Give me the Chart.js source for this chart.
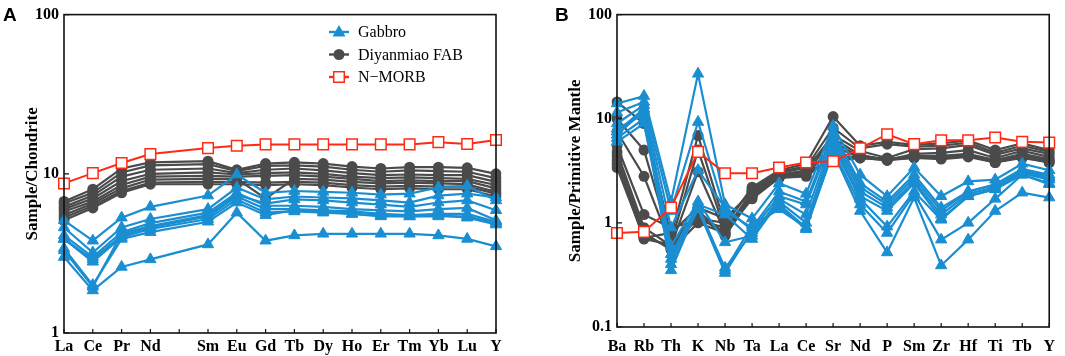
<!DOCTYPE html>
<html>
<head>
<meta charset="utf-8">
<script src="https://cdn.jsdelivr.net/npm/chart.js@4"></script>
<style>
  body { margin: 0; background: #fff; }
  canvas { position: absolute; top: 0; }
</style>
</head>
<body>
<canvas id="chartA" width="530" height="356" style="left:0px"></canvas>
<canvas id="chartB" width="535" height="356" style="left:530px"></canvas>
<script>
// ---- panel A: chondrite-normalised REE (Pm slot left empty) ----
var reeLabels = ['La', 'Ce', 'Pr', 'Nd', '', 'Sm', 'Eu', 'Gd', 'Tb', 'Dy', 'Ho', 'Er', 'Tm', 'Yb', 'Lu', 'Y'];
var reeTicks = [1, 10, 100];

var reeMorb = [8.7, 10.1, 11.7, 13.3, null, 14.5, 15.0, 15.3, 15.3, 15.3, 15.3, 15.3, 15.3, 15.8, 15.4, 16.3];

var reeFab = [
  [6.7, 8.0, 10.8, 11.8, null, 12.0, 10.6, 11.6, 11.8, 11.6, 11.1, 10.8, 11.0, 11.0, 10.9, 10.0],
  [6.5, 7.6, 10.2, 11.3, null, 11.5, 10.4, 11.2, 11.3, 11.1, 10.6, 10.3, 10.5, 10.4, 10.3, 9.4],
  [6.2, 7.3, 9.6, 10.6, null, 10.8, 10.1, 10.6, 10.8, 10.5, 10.1, 9.8, 9.9, 9.8, 9.8, 8.9],
  [6.0, 7.0, 9.0, 10.0, null, 10.2, 9.9, 10.1, 10.2, 10.0, 9.6, 9.4, 9.5, 9.4, 9.3, 8.5],
  [5.8, 6.7, 8.5, 9.6, null, 9.7, 9.6, 9.7, 9.8, 9.6, 9.3, 9.0, 9.1, 9.0, 9.0, 8.1],
  [5.5, 6.5, 8.1, 9.2, null, 9.3, 9.3, 7.0, 9.3, 9.2, 8.9, 8.7, 8.8, 8.7, 8.6, 7.7],
  [5.3, 6.3, 7.8, 8.8, null, 8.9, 8.9, 8.8, 8.9, 8.8, 8.5, 8.3, 8.4, 8.3, 8.3, 7.5],
  [5.1, 6.1, 7.6, 8.6, null, 8.6, 8.6, 8.5, 8.6, 8.5, 8.2, 8.0, 8.1, 8.0, 8.0, 7.2]
];

var reeGabbro = [
  [5.1, 3.8, 5.3, 6.2, null, 7.3, 9.9, 7.6, 7.8, 7.7, 7.6, 7.4, 7.5, 8.2, 8.4, 6.8],
  [4.6, 3.2, 4.6, 5.2, null, 6.0, 8.2, 6.9, 7.2, 7.1, 7.0, 6.8, 6.6, 7.3, 7.5, 7.1],
  [4.1, 3.0, 4.3, 4.9, null, 5.7, 7.6, 6.3, 6.3, 6.2, 6.0, 5.9, 5.8, 6.0, 6.1, 5.1],
  [3.9, 2.9, 4.1, 4.6, null, 5.4, 7.2, 6.0, 6.0, 5.9, 5.8, 5.6, 5.5, 5.6, 5.6, 5.0],
  [3.9, 2.8, 4.0, 4.5, null, 5.2, 6.9, 5.7, 5.8, 5.7, 5.6, 5.4, 5.4, 5.4, 5.4, 4.9],
  [3.4, 2.0, 3.9, 4.3, null, 5.0, 6.6, 5.5, 5.9, 5.8, 5.6, 5.5, 5.4, 5.5, 5.3, 4.8],
  [3.3, 1.95, 4.2, 4.7, null, 5.5, 7.4, 6.5, 6.9, 6.8, 6.6, 6.4, 6.2, 6.6, 6.8, 5.9],
  [3.0, 1.85, 2.6, 2.9, null, 3.6, 5.7, 3.8, 4.1, 4.2, 4.2, 4.2, 4.2, 4.1, 3.9, 3.5]
];

// ---- panel B: primitive-mantle-normalised spider diagram ----
var pmLabels = ['Ba', 'Rb', 'Th', 'K', 'Nb', 'Ta', 'La', 'Ce', 'Sr', 'Nd', 'P', 'Sm', 'Zr', 'Hf', 'Ti', 'Tb', 'Y'];
var pmTicks = [0.1, 1, 10, 100];

var pmMorb = [0.8, 0.82, 1.4, 4.8, 3.0, 3.0, 3.4, 3.8, 3.9, 5.2, 7.1, 5.7, 6.2, 6.2, 6.6, 6.0, 5.9];

var pmFab = [
  [14.5, 9.0, 0.75, 6.9, 0.95, 2.2, 3.2, 3.7, 10.5, 5.5, 6.0, 5.6, 5.8, 6.2, 5.0, 5.8, 5.0],
  [10.0, 5.0, 0.65, 5.0, 0.85, 2.0, 3.0, 3.4, 8.2, 5.2, 5.7, 5.4, 5.5, 5.9, 4.7, 5.5, 4.8],
  [7.5, 2.8, 0.6, 3.1, 0.8, 1.9, 2.9, 3.2, 7.0, 4.9, 4.2, 5.1, 5.2, 5.6, 4.5, 5.2, 4.6],
  [5.5, 1.2, 0.9, 1.05, 0.9, 1.8, 2.8, 3.0, 6.5, 4.5, 4.0, 4.6, 4.7, 5.0, 4.2, 4.9, 4.3],
  [4.8, 0.9, 0.6, 1.1, 1.0, 2.1, 3.1, 3.5, 6.0, 4.3, 4.1, 4.4, 4.4, 4.6, 4.0, 4.6, 4.1],
  [4.4, 0.8, 0.55, 1.0, 0.8, 1.7, 2.7, 2.9, 5.5, 4.2, 4.0, 4.3, 4.2, 4.5, 3.9, 4.5, 4.0],
  [4.0, 0.75, 0.58, 1.2, 0.75, 1.8, 2.7, 2.8, 4.3, 4.3, 4.1, 4.2, 4.3, 4.4, 3.9, 4.4, 3.9],
  [3.7, 0.7, 0.62, 1.3, 0.78, 1.9, 2.8, 3.0, 3.9, 4.2, 4.0, 4.2, 4.1, 4.3, 3.8, 4.3, 3.8],
  [3.4, 0.72, 0.8, 1.4, 1.1, 2.0, 2.8, 3.1, 4.0, 4.4, 4.1, 4.3, 4.2, 4.4, 3.8, 4.2, 3.8]
];

var pmGabbro = [
  [14.0, 16.5, 1.6, 27.0, 1.5, 1.1, 2.4, 1.9, 8.5, 2.9, 1.8, 3.4, 1.8, 2.5, 2.6, 3.7, 3.2],
  [11.5, 14.5, 1.3, 9.3, 1.3, 0.9, 2.0, 1.6, 7.5, 2.4, 1.6, 2.9, 1.4, 2.0, 2.35, 3.3, 2.9],
  [9.0, 13.5, 0.9, 3.2, 1.4, 0.85, 1.8, 1.5, 7.0, 2.2, 1.5, 2.7, 1.3, 2.0, 2.3, 3.2, 2.8],
  [7.5, 12.5, 0.6, 1.6, 0.65, 0.75, 1.7, 1.2, 6.5, 2.0, 1.4, 2.5, 1.2, 1.9, 2.2, 3.1, 2.7],
  [6.5, 10.0, 0.5, 1.5, 1.2, 0.7, 1.6, 1.0, 6.0, 1.8, 1.3, 2.4, 1.1, 1.8, 2.1, 3.0, 2.6],
  [6.0, 9.0, 0.45, 1.4, 0.37, 0.8, 1.5, 0.9, 5.5, 1.7, 0.92, 2.0, 1.07, 1.8, 2.1, 2.9, 2.4],
  [7.0, 12.0, 0.4, 1.35, 0.33, 0.85, 1.45, 0.87, 5.0, 1.5, 0.8, 1.9, 0.69, 1.0, 1.7, 2.9, 2.35],
  [8.0, 11.0, 0.35, 1.45, 0.35, 0.95, 1.35, 0.9, 4.8, 1.3, 0.52, 1.75, 0.39, 0.69, 1.3, 1.95, 1.75]
];

var legendLabels = ['Gabbro', 'Diyanmiao FAB', 'N\u2212MORB'];

var BLUE = '#1a8ed1';
var GRAY = '#4b4b4b';
var RED = '#ff2a14';
var SERIF = '"Liberation Serif", "Times New Roman", serif';

function gabbroSet(d) {
  return { data: d, borderColor: BLUE, backgroundColor: BLUE, borderWidth: 2.2,
    pointStyle: 'triangle', pointRadius: 6.5, pointBorderWidth: 1, order: 1, spanGaps: true };
}
function fabSet(d) {
  return { data: d, borderColor: GRAY, backgroundColor: GRAY, borderWidth: 2.2,
    pointStyle: 'circle', pointRadius: 5.5, pointBorderWidth: 0, order: 2, spanGaps: true };
}
function morbSet(d) {
  return { data: d, borderColor: RED, backgroundColor: '#fff', borderWidth: 2,
    pointStyle: 'rect', pointRadius: 7.5, pointBorderWidth: 1.5, order: 0, spanGaps: true };
}

function drawMarker(ctx, style, x, y, color) {
  ctx.save();
  ctx.fillStyle = color;
  ctx.strokeStyle = color;
  ctx.beginPath();
  if (style === 'triangle') {
    ctx.moveTo(x, y - 7);
    ctx.lineTo(x + 6.5, y + 4.5);
    ctx.lineTo(x - 6.5, y + 4.5);
    ctx.closePath();
    ctx.fill();
  } else if (style === 'circle') {
    ctx.arc(x, y, 5.5, 0, Math.PI * 2);
    ctx.fill();
  } else {
    ctx.fillStyle = '#fff';
    ctx.lineWidth = 1.5;
    ctx.rect(x - 5.3, y - 5.3, 10.6, 10.6);
    ctx.fill();
    ctx.stroke();
  }
  ctx.restore();
}

// frame, inward tick marks, panel letter and in-plot legend
var framePlugin = {
  id: 'frame',
  afterDatasetsDraw: function (chart, args, opts) {
    var ctx = chart.ctx, a = chart.chartArea;
    var xs = chart.scales.x, ys = chart.scales.y;
    ctx.save();
    ctx.strokeStyle = '#111';
    ctx.lineWidth = 1.6;
    ctx.strokeRect(a.left, a.top, a.right - a.left, a.bottom - a.top);
    ctx.lineWidth = 1.2;
    ctx.beginPath();
    xs.ticks.forEach(function (t, i) {
      var px = xs.getPixelForTick(i);
      ctx.moveTo(px, a.bottom);
      ctx.lineTo(px, a.bottom - 4);
    });
    ys.ticks.forEach(function (t) {
      var py = ys.getPixelForValue(t.value);
      ctx.moveTo(a.left, py);
      ctx.lineTo(a.left + 5, py);
    });
    ctx.stroke();

    ctx.fillStyle = '#000';
    ctx.font = 'bold 19px "Liberation Sans", Arial, sans-serif';
    ctx.textBaseline = 'alphabetic';
    ctx.fillText(opts.letter, opts.letterX, 21);

    if (opts.legend) {
      var styles = ['triangle', 'circle', 'rect'];
      var colors = [BLUE, GRAY, RED];
      ctx.font = '16px ' + SERIF;
      ctx.textBaseline = 'middle';
      legendLabels.forEach(function (lab, i) {
        var y = 32 + i * 22.5;
        ctx.strokeStyle = colors[i];
        ctx.lineWidth = 2.4;
        ctx.beginPath();
        ctx.moveTo(329, y);
        ctx.lineTo(349, y);
        ctx.stroke();
        drawMarker(ctx, styles[i], 339, y, colors[i]);
        ctx.fillStyle = '#000';
        ctx.fillText(lab, 358, y + 1);
      });
    }
    ctx.restore();
  }
};

function makeOptions(cfg) {
  return {
    responsive: false,
    animation: false,
    layout: { padding: cfg.padding },
    plugins: {
      legend: { display: false },
      tooltip: { enabled: false },
      frame: cfg.frame
    },
    scales: {
      x: {
        type: 'category',
        offset: false,
        grid: { display: false, drawTicks: false },
        border: { display: false },
        ticks: { color: '#000', font: { family: SERIF, size: 16, weight: 'bold' },
          padding: cfg.xPad, maxRotation: 0, autoSkip: false },
        afterFit: function (s) { s.height = cfg.xHeight; }
      },
      y: {
        type: 'logarithmic',
        min: cfg.yTicks[0],
        max: cfg.yTicks[cfg.yTicks.length - 1],
        grid: { display: false, drawTicks: false },
        border: { display: false },
        afterBuildTicks: function (s) {
          s.ticks = cfg.yTicks.map(function (v) { return { value: v }; });
        },
        ticks: { color: '#000', font: { family: SERIF, size: 16, weight: 'bold' }, padding: 5,
          callback: function (v) { return String(v); } },
        title: { display: true, text: cfg.title, color: '#000',
          font: { family: SERIF, size: 17, weight: 'bold' }, padding: { top: cfg.titlePad, bottom: 0 } },
        afterFit: function (s) { s.width = cfg.yWidth; }
      }
    }
  };
}

var setsA = [morbSet(reeMorb)]
  .concat(reeGabbro.map(gabbroSet))
  .concat(reeFab.map(fabSet));

new Chart(document.getElementById('chartA').getContext('2d'), {
  type: 'line',
  data: { labels: reeLabels, datasets: setsA },
  options: makeOptions({
    padding: { top: 9, right: 34, left: 0, bottom: 0 },
    xHeight: 23, xPad: 4, yWidth: 64, titlePad: 22,
    yTicks: reeTicks, title: 'Sample/Chondrite',
    frame: { letter: 'A', letterX: 3, legend: true }
  }),
  plugins: [framePlugin]
});

var setsB = [morbSet(pmMorb)]
  .concat(pmGabbro.map(gabbroSet))
  .concat(pmFab.map(fabSet));

new Chart(document.getElementById('chartB').getContext('2d'), {
  type: 'line',
  data: { labels: pmLabels, datasets: setsB },
  options: makeOptions({
    padding: { top: 5, right: 8, left: 0, bottom: 0 },
    xHeight: 29, xPad: 10, yWidth: 87, titlePad: 35,
    yTicks: pmTicks, title: 'Sample/Primitive Mantle',
    frame: { letter: 'B', letterX: 25, legend: false }
  }),
  plugins: [framePlugin]
});
</script>
</body>
</html>
